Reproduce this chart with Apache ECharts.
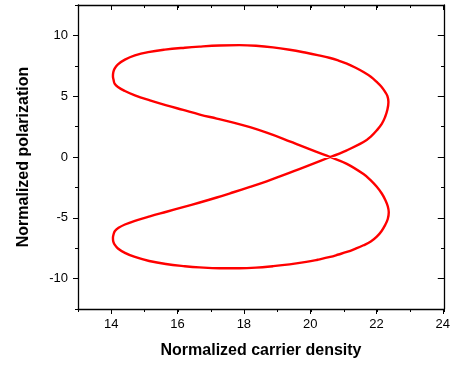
<!DOCTYPE html>
<html>
<head>
<meta charset="utf-8">
<script src="https://cdn.jsdelivr.net/npm/echarts@6/dist/echarts.min.js"></script>
<style>
html,body{margin:0;padding:0;background:#fff;}
#chart{width:453px;height:367px;}
</style>
</head>
<body>
<div id="chart"></div>
<script>
// Normalized carrier density (x) and normalized polarization (y), traced in drawing order
const xValues = [
  20.58, 21.08, 21.58, 21.80, 21.98, 22.13, 22.23, 22.30, 22.33, 22.30,
  22.23, 22.12, 21.98, 21.80, 21.58, 21.33, 21.08, 20.83, 20.58, 20.20,
  19.86, 19.36, 18.86, 18.35, 17.85, 17.25, 16.65, 16.21, 15.61, 15.11,
  14.71, 14.41, 14.20, 14.10, 14.06, 14.05, 14.07, 14.10, 14.20, 14.41,
  14.71, 15.16, 15.66, 16.16, 16.66, 17.17, 17.67, 18.17, 18.67, 19.17,
  19.67, 20.17, 20.58,
  21.08, 21.58, 21.80, 21.98, 22.13, 22.24, 22.31, 22.34, 22.31, 22.23,
  22.12, 21.98, 21.80, 21.58, 21.33, 21.08, 20.83, 20.58, 20.20, 19.86,
  19.36, 18.86, 18.35, 17.85, 17.25, 16.65, 16.21, 15.64, 15.14, 14.71,
  14.41, 14.20, 14.10, 14.06, 14.05, 14.07, 14.11, 14.22, 14.41, 14.71,
  15.16, 15.66, 16.16, 16.66, 17.17, 17.67, 18.17, 18.67, 19.17, 19.67,
  20.17, 20.58
];
const yValues = [
  0.00, 0.55, 1.23, 1.68, 2.20, 2.72, 3.29, 3.90, 4.52, 5.00,
  5.35, 5.78, 6.17, 6.60, 6.99, 7.36, 7.68, 7.93, 8.14, 8.38,
  8.57, 8.82, 9.02, 9.15, 9.20, 9.17, 9.08, 8.99, 8.83, 8.63,
  8.36, 8.01, 7.62, 7.27, 6.95, 6.64, 6.33, 6.04, 5.76, 5.43,
  5.07, 4.66, 4.25, 3.87, 3.49, 3.16, 2.83, 2.45, 2.00, 1.50,
  0.95, 0.42, 0.00,
  -0.56, -1.40, -1.92, -2.45, -3.00, -3.55, -4.05, -4.55, -5.10, -5.60,
  -6.10, -6.55, -6.95, -7.26, -7.55, -7.81, -8.02, -8.22, -8.45, -8.63,
  -8.83, -8.98, -9.10, -9.15, -9.15, -9.08, -8.98, -8.80, -8.55, -8.22,
  -7.88, -7.52, -7.20, -6.95, -6.65, -6.35, -6.08, -5.82, -5.55, -5.25,
  -4.88, -4.50, -4.12, -3.74, -3.33, -2.90, -2.46, -2.00, -1.50, -0.97,
  -0.44, 0.00
];
const xTitle = 'Normalized carrier density';
const yTitle = 'Normalized polarization';

const points = xValues.map((x, i) => [x, yValues[i]]);
const font = 'Liberation Sans, Arial, sans-serif';
const black = '#000';

const chart = echarts.init(document.getElementById('chart'), null, {renderer: 'canvas'});
chart.setOption({
  animation: false,
  backgroundColor: '#fff',
  grid: [
    {left: 78, right: 9, top: 5, bottom: 58},
    {left: 78 + 366 / 11, right: 9, top: 5 + 304 * 2.5 / 25, bottom: 58 + 304 * 2.5 / 25}
  ],
  xAxis: [
    {gridIndex: 0, type: 'value', min: 13, max: 24, interval: 1, position: 'bottom',
     axisLine: {onZero: false, lineStyle: {color: black, width: 1.3}},
     axisTick: {length: 3, lineStyle: {color: black, width: 1}},
     axisLabel: {show: false}, splitLine: {show: false},
     name: xTitle, nameLocation: 'middle', nameGap: 34,
     nameTextStyle: {fontFamily: font, fontWeight: 'bold', fontSize: 16, color: black}},
    {gridIndex: 0, type: 'value', min: 13, max: 24, interval: 1, position: 'top',
     axisLine: {onZero: false, lineStyle: {color: black, width: 1.3}},
     axisTick: {inside: true, length: 3, lineStyle: {color: black, width: 1}},
     axisLabel: {show: false}, splitLine: {show: false}},
    {gridIndex: 1, type: 'value', min: 14, max: 24, interval: 2, position: 'bottom', offset: 304 * 2.5 / 25,
     axisLine: {show: false, onZero: false},
     axisTick: {length: 5, lineStyle: {color: black, width: 1}},
     axisLabel: {margin: 9, fontSize: 13, color: black, fontFamily: font},
     splitLine: {show: false}},
    {gridIndex: 1, type: 'value', min: 14, max: 24, interval: 2, position: 'top', offset: 304 * 2.5 / 25,
     axisLine: {show: false, onZero: false},
     axisTick: {inside: true, length: 5, lineStyle: {color: black, width: 1}},
     axisLabel: {show: false}, splitLine: {show: false}}
  ],
  yAxis: [
    {gridIndex: 0, type: 'value', min: -12.5, max: 12.5, interval: 2.5, position: 'left',
     axisLine: {onZero: false, lineStyle: {color: black, width: 1.3}},
     axisTick: {length: 3, lineStyle: {color: black, width: 1}},
     axisLabel: {show: false}, splitLine: {show: false},
     name: yTitle, nameLocation: 'middle', nameGap: 46,
     nameTextStyle: {fontFamily: font, fontWeight: 'bold', fontSize: 16, color: black}},
    {gridIndex: 0, type: 'value', min: -12.5, max: 12.5, interval: 2.5, position: 'right',
     axisLine: {onZero: false, lineStyle: {color: black, width: 1.3}},
     axisTick: {inside: true, length: 3, lineStyle: {color: black, width: 1}},
     axisLabel: {show: false}, splitLine: {show: false}},
    {gridIndex: 1, type: 'value', min: -10, max: 10, interval: 5, position: 'left', offset: 366 / 11,
     axisLine: {show: false, onZero: false},
     axisTick: {length: 5, lineStyle: {color: black, width: 1}},
     axisLabel: {margin: 10, fontSize: 13, color: black, fontFamily: font},
     splitLine: {show: false}},
    {gridIndex: 1, type: 'value', min: -10, max: 10, interval: 5, position: 'right',
     axisLine: {show: false, onZero: false},
     axisTick: {inside: true, length: 5, lineStyle: {color: black, width: 1}},
     axisLabel: {show: false}, splitLine: {show: false}}
  ],
  series: [{
    type: 'line',
    xAxisIndex: 0, yAxisIndex: 0,
    data: points,
    showSymbol: false,
    smooth: 0.4,
    lineStyle: {color: '#ff0000', width: 2.4, join: 'round'},
    z: 3
  }]
});
</script>
</body>
</html>
